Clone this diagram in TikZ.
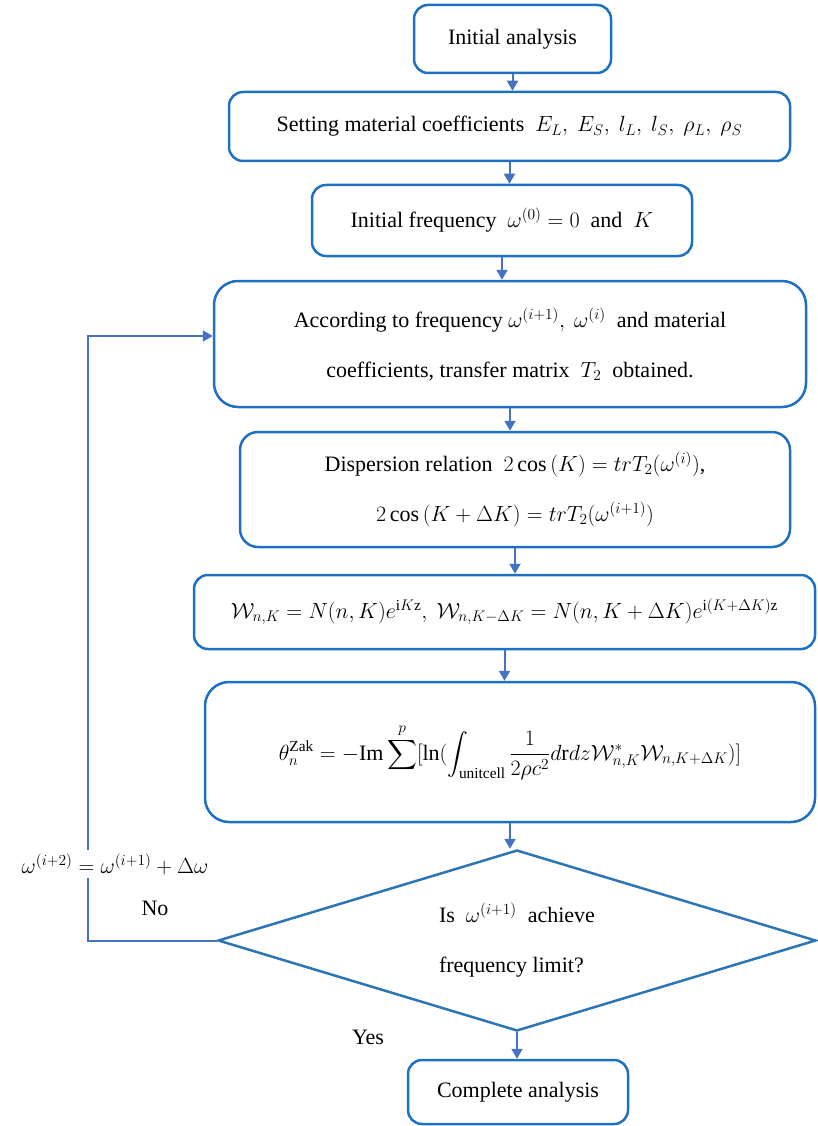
\RequirePackage{fix-cm}
\documentclass[tikz,border=0pt]{standalone}
\usepackage{amsmath}
\usepackage{fontspec}
\setmainfont{Liberation Serif}
\usetikzlibrary{shapes.geometric,arrows.meta}
\definecolor{boxblue}{RGB}{30,112,192}
\definecolor{linkblue}{RGB}{68,114,196}
\definecolor{diamblue}{RGB}{46,117,182}
\begin{document}
\begin{tikzpicture}[x=1pt,y=-1pt,
      font=\fontsize{22}{50}\selectfont,
      stage/.style={draw=boxblue,line width=2.5pt,rounded corners=14pt,inner sep=0pt,align=center},
      link/.style={draw=linkblue,line width=2pt,-{Triangle[width=11pt,length=10pt]}},
      test/.style={diamond,draw=diamblue,line width=2.5pt,inner sep=0pt,aspect=3.3,align=left}]
      \useasboundingbox (0,0) rectangle (817,1126);
      \path (512.5,39) node[stage,minimum width=197pt,minimum height=68pt] (init) {Initial analysis};
      \path (509.5,126.5) node[stage,minimum width=561pt,minimum height=69pt] (coef)
        {Setting material coefficients\ \ $E_L,\ E_S,\ l_L,\ l_S,\ \rho_L,\ \rho_S$};
      \path (502,220.5) node[stage,minimum width=380pt,minimum height=71pt] (freq)
        {Initial frequency\ \ $\omega^{(0)}=0$\ \ and\ \ $K$};
      \path (510,344) node[stage,rounded corners=24pt,minimum width=592pt,minimum height=126pt] (trans)
        {According to frequency $\omega^{(i+1)},\ \omega^{(i)}$\ \ and material\\
         coefficients, transfer matrix\ \ $T_2$\ \ obtained.};
      \path (515,489.5) node[stage,rounded corners=18pt,minimum width=550pt,minimum height=115pt] (disp)
        {Dispersion relation\ \ $2\cos\,(K)=trT_2(\omega^{(i)})$,\\
         $2\cos\,(K+\Delta K)=trT_2(\omega^{(i+1)})$};
      \path (504.5,612) node[stage,minimum width=621pt,minimum height=74pt] (wave)
        {$\mathcal{W}_{n,K}=N(n,K)e^{\mathrm{i}K\mathrm{z}},\ \mathcal{W}_{n,K-\Delta K}=N(n,K+\Delta K)e^{\mathrm{i}(K+\Delta K)\mathrm{z}}$};
      \path (510,752) node[stage,rounded corners=24pt,minimum width=610pt,minimum height=140pt] (zak)
        {$\displaystyle\theta_n^{\mathrm{Zak}}=-\mathrm{Im}\sum^{p}[\ln(\int_{\mathrm{unitcell}}\frac{1}{2\rho c^2}d\mathrm{r}dz\mathcal{W}^{*}_{n,K}\mathcal{W}_{n,K+\Delta K})]$};
      \path (517,940.5) node[test,minimum width=598pt,minimum height=181pt] (check)
        {Is\ \ $\omega^{(i+1)}$\ \ achieve\\frequency limit?};
      \path (518,1092) node[stage,minimum width=220pt,minimum height=64pt] (done) {Complete analysis};
      \draw[link] (init.south) -- (init.south |- coef.north);
      \draw[link] (coef.south) -- (coef.south |- freq.north);
      \draw[link] (freq.south) -- (freq.south |- trans.north);
      \draw[link] (trans.south) -- (trans.south |- disp.north);
      \draw[link] (disp.south) -- (disp.south |- wave.north);
      \draw[link] (wave.south) -- (wave.south |- zak.north);
      \draw[link] (zak.south) -- (zak.south |- check.north);
      \draw[link] (check.south) -- (check.south |- done.north);
      \coordinate (turn) at (88,336);
      \draw[link] (check.west) -| (turn) -- (turn -| trans.west);
      \path (115,864) node[fill=white,inner sep=4pt] (incr) {$\omega^{(i+2)}=\omega^{(i+1)}+\Delta\omega$};
      \path (155,908) node (no) {No};
      \path (368,1037) node (yes) {Yes};
\end{tikzpicture}
\end{document}
